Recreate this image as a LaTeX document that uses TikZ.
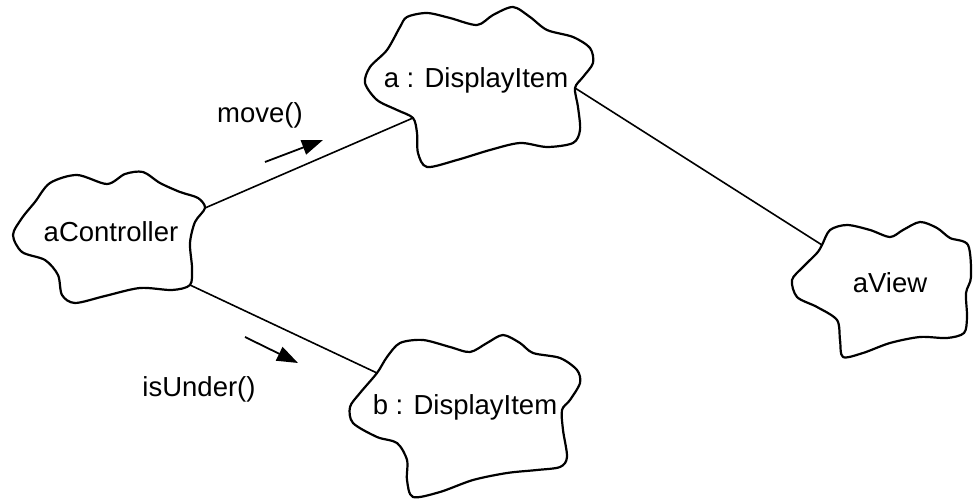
\documentclass[tikz,border=0pt]{standalone}
\usepackage{fontspec}
\setmainfont{Liberation Sans}
\usetikzlibrary{arrows.meta}
\tikzset{
  cloudline/.style={line width=1.1pt, line join=round},
  link/.style={line width=0.8pt},
  msgarrow/.style={line width=0.9pt, -{Triangle[length=10.5pt,width=7.5pt]}},
  objname/.style={font=\fontsize{13.75}{16}\selectfont, inner sep=0pt},
  msgname/.style={font=\fontsize{13.75}{16}\selectfont, inner sep=0pt}
}
\begin{document}
\begin{tikzpicture}[x=0.5pt,y=-0.5pt]
\useasboundingbox (0,0) rectangle (973,501);

% attachment points of the links on the cloud outlines
\coordinate (ctrlUp) at (205,208);
\coordinate (ctrlDown) at (190,285);
\coordinate (aLeft) at (413,118);
\coordinate (aRight) at (575,88);
\coordinate (bLeft) at (377,373);
\coordinate (viewLeft) at (822,245);

% object clouds
\draw[cloudline] plot[smooth cycle] coordinates {
  (50,183) (77,175) (107,184) (125,174) (143,172) (160,183) (180,192) (198,198)
  (205,208) (195,222) (190,243) (192,268) (190,285) (172,290) (140,288)
  (105,296) (75,303) (62,295) (58,275) (45,260) (22,252) (13,235) (22,218) (35,202)};

\draw[cloudline] plot[smooth cycle] coordinates {
  (400,27) (407,17) (427,13) (450,18) (477,25) (493,15) (513,7) (530,17)
  (547,30) (573,37) (590,48) (593,63) (583,77) (575,88) (578,107) (580,130)
  (573,143) (547,147) (520,143) (490,150) (457,160) (427,167) (418,153)
  (417,133) (413,118) (397,110) (377,100) (365,83) (370,67) (387,50)};

\draw[cloudline] plot[smooth cycle] coordinates {
  (387,357) (400,343) (423,340) (450,347) (470,352) (487,343) (503,335)
  (520,343) (533,353) (560,358) (577,370) (580,383) (570,400) (562,410)
  (563,430) (567,457) (560,467) (537,470) (507,473) (473,480) (440,492)
  (413,497) (407,480) (407,460) (397,443) (377,437) (353,423) (350,407)
  (360,393) (377,373)};

\draw[cloudline] plot[smooth cycle] coordinates {
  (830,230) (847,225) (870,230) (890,237) (903,230) (920,222) (937,228)
  (950,238) (968,245) (971,277) (966,293) (967,317) (964,333) (947,338)
  (920,337) (890,343) (863,353) (843,357) (840,340) (837,320) (817,307)
  (797,297) (792,280) (803,267) (817,253) (822,245)};

% object names
\node[objname] (ctrl) at (111,232) {aController};
\node[objname] (a) at (476,80) {a : DisplayItem};
\node[objname] (b) at (465,407) {b : DisplayItem};
\node[objname] (view) at (890,283) {aView};

% links
\draw[link] (ctrlUp) -- (aLeft);
\draw[link] (ctrlDown) -- (bLeft);
\draw[link] (aRight) -- (viewLeft);

% messages
\coordinate (mvFrom) at (265,162);
\coordinate (mvTo) at (323,140);
\draw[msgarrow] (mvFrom) -- (mvTo);
\node[msgname] (move) at (260,115) {move()};

\coordinate (isFrom) at (245,337);
\coordinate (isTo) at (298,363);
\draw[msgarrow] (isFrom) -- (isTo);
\node[msgname] (isunder) at (199,389) {isUnder()};
\end{tikzpicture}
\end{document}
